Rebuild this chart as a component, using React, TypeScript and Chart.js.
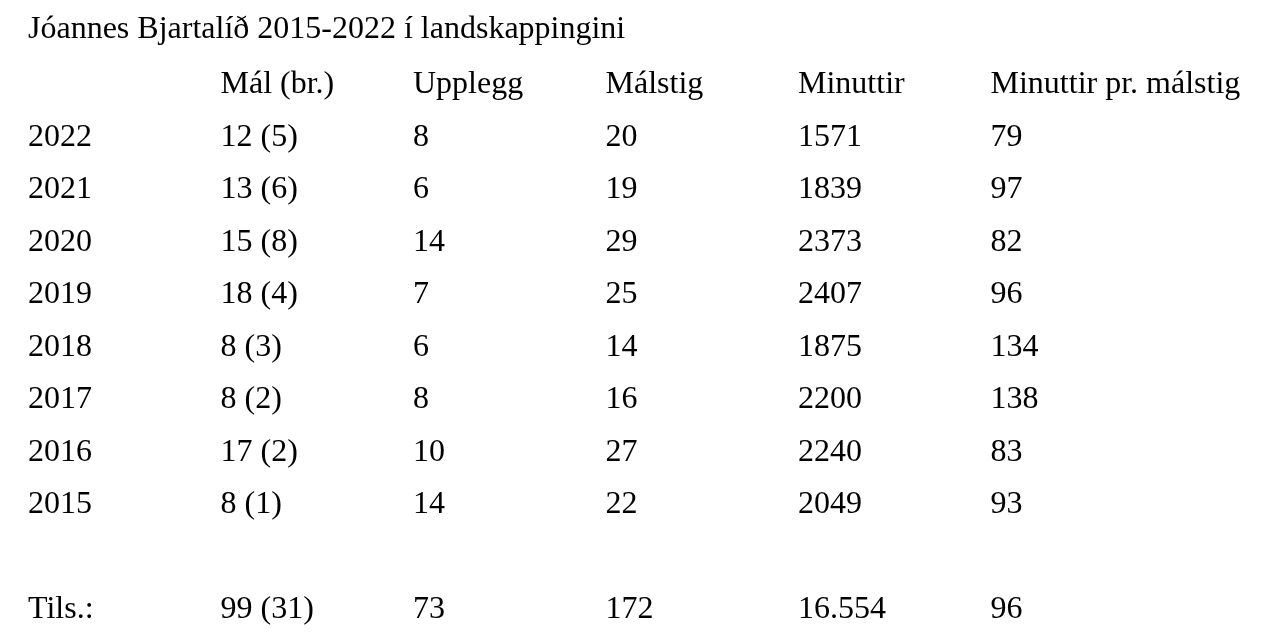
import React, { useEffect, useRef } from "react";
import { Chart, registerables } from "chart.js";

Chart.register(...registerables);

const title = "Jóannes Bjartalíð 2015-2022 í landskappingini";
const headers = ["", "Mál (br.)", "Upplegg", "Málstig", "Minuttir", "Minuttir pr. málstig"];
const years = ["2022", "2021", "2020", "2019", "2018", "2017", "2016", "2015"];
const mal = ["12 (5)", "13 (6)", "15 (8)", "18 (4)", "8 (3)", "8 (2)", "17 (2)", "8 (1)"];
const upplegg = [8, 6, 14, 7, 6, 8, 10, 14];
const malstig = [20, 19, 29, 25, 14, 16, 27, 22];
const minuttir = [1571, 1839, 2373, 2407, 1875, 2200, 2240, 2049];
const minPerMalstig = [79, 97, 82, 96, 134, 138, 83, 93];
const totals = ["Tils.:", "99 (31)", "73", "172", "16.554", "96"];

const FONT = '32px "Liberation Serif", "Times New Roman", Times, serif';

export default function App() {
  const ref = useRef<HTMLCanvasElement | null>(null);

  useEffect(() => {
    document.body.style.margin = "0";
    const canvas = ref.current;
    if (!canvas) return;

    const columns: string[][] = [
      years,
      mal,
      upplegg.map(String),
      malstig.map(String),
      minuttir.map(String),
      minPerMalstig.map(String),
    ];

    // rows: 0 = header, 1..8 = years, 9 = blank, 10 = totals
    const datasets = headers.map((h, c) => {
      const labels: string[] = [];
      const data: { x: number; y: number }[] = [];
      if (h) {
        labels.push(h);
        data.push({ x: c, y: 0 });
      }
      columns[c].forEach((v, r) => {
        labels.push(v);
        data.push({ x: c, y: r + 1 });
      });
      labels.push(totals[c]);
      data.push({ x: c, y: years.length + 2 });
      return {
        label: h || "År",
        data,
        texts: labels,
        pointRadius: 0,
        pointHoverRadius: 0,
        showLine: false,
      } as any;
    });

    const textPlugin = {
      id: "cellText",
      afterDatasetsDraw(chart: any) {
        const ctx = chart.ctx;
        ctx.save();
        ctx.font = FONT;
        ctx.fillStyle = "#000";
        ctx.textAlign = "left";
        ctx.textBaseline = "alphabetic";
        chart.data.datasets.forEach((ds: any, i: number) => {
          const meta = chart.getDatasetMeta(i);
          meta.data.forEach((el: any, j: number) => {
            ctx.fillText(ds.texts[j], el.x, el.y);
          });
        });
        ctx.restore();
      },
    };

    const chart = new Chart(canvas, {
      type: "scatter",
      data: { datasets },
      options: {
        animation: false,
        responsive: false,
        devicePixelRatio: 1,
        layout: { padding: { left: 28, right: 99, top: 0, bottom: 16 } },
        scales: {
          x: { type: "linear", min: 0, max: 6, display: false },
          y: { type: "linear", min: 0, max: 10, reverse: true, display: false },
        },
        plugins: {
          legend: { display: false },
          tooltip: { enabled: false },
          title: {
            display: true,
            text: title,
            align: "start",
            color: "#000",
            font: { family: '"Liberation Serif", "Times New Roman", Times, serif', size: 32, weight: "normal" },
            padding: { top: 10, bottom: 44.6 },
          },
        },
      },
      plugins: [textPlugin],
    } as any);

    return () => chart.destroy();
  }, []);

  return (
    <div style={{ width: 1282, height: 634, background: "#fff" }}>
      <canvas ref={ref} width={1282} height={634} style={{ display: "block" }} />
    </div>
  );
}
